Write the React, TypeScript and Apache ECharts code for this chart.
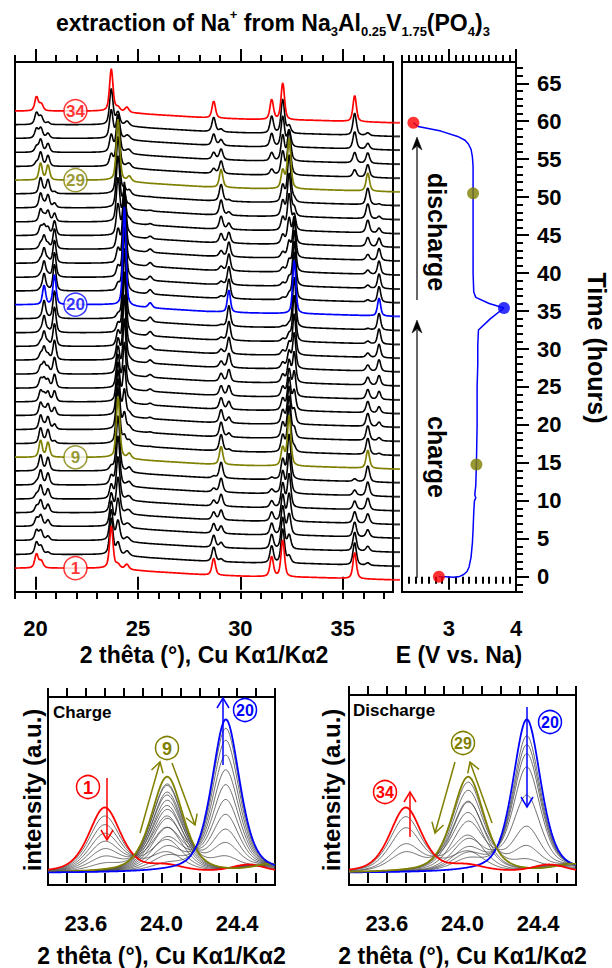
import React, { useEffect, useRef } from "react";
import * as echarts from "echarts";

const FONT = '"Liberation Sans", Arial, Helvetica, sans-serif';
const RED = "#ff0000";
const OLIVE = "#808000";
const BLUE = "#0000ff";
const BLACK = "#000000";
const GRAY = "#4a4a4a";

// ---------------- data ----------------
// Reflections of the three phases: 2θ position (°), height (a.u.), FWHM (°)
const phaseAPos = [20.05, 20.28, 23.7, 24.02, 24.46, 28.7, 31.53, 32.07, 35.58];
const phaseAHeight = [14, 7, 42, 4, 5, 17, 20, 37, 26];
const phaseAFwhm = [0.2, 0.22, 0.2, 0.24, 0.22, 0.2, 0.2, 0.2, 0.2];

const phaseBPos = [20.25, 20.61, 24.03, 24.58, 29.06, 32.07, 32.38, 36.22];
const phaseBHeight = [17, 15, 62, 5, 18, 18, 50, 18];
const phaseBFwhm = [0.19, 0.19, 0.2, 0.22, 0.2, 0.2, 0.2, 0.2];

const phaseCPos = [20.42, 20.93, 24.34, 25.6, 29.44, 32.63, 36.77];
const phaseCHeight = [19, 30, 99, 5, 22, 54, 18];
const phaseCFwhm = [0.18, 0.18, 0.175, 0.22, 0.18, 0.18, 0.18];

// Scans
const scanNumbers = [
  1, 2, 3, 4, 5, 6, 7, 8, 9, 10, 11, 12, 13, 14, 15, 16, 17, 18, 19, 20, 21,
  22, 23, 24, 25, 26, 27, 28, 29, 30, 31, 32, 33, 34,
];
const scanTimes = [
  -0.4, 1.4, 3.25, 5.1, 6.9, 8.7, 10.55, 12.4, 14.2, 16.0, 17.85, 19.7, 21.5,
  23.3, 25.15, 27.0, 28.8, 30.6, 32.45, 34.3, 36.1, 37.9, 39.75, 41.6, 43.4,
  45.2, 47.05, 48.9, 50.7, 52.5, 54.35, 56.2, 58.0, 59.8,
];
const fracA = [
  1, 0.86, 0.72, 0.58, 0.45, 0.33, 0.21, 0.1, 0, 0, 0, 0, 0, 0, 0, 0, 0, 0, 0,
  0, 0, 0, 0, 0, 0, 0, 0, 0, 0, 0.28, 0.41, 0.67, 0.85, 1,
];
const fracB = [
  0, 0.14, 0.28, 0.42, 0.55, 0.67, 0.79, 0.9, 1, 0.92, 0.83, 0.74, 0.64, 0.54,
  0.44, 0.34, 0.24, 0.14, 0.06, 0, 0.11, 0.17, 0.23, 0.32, 0.51, 0.72, 0.85,
  0.94, 1, 0.72, 0.59, 0.33, 0.15, 0,
];
const fracC = [
  0, 0, 0, 0, 0, 0, 0, 0, 0, 0.08, 0.17, 0.26, 0.36, 0.46, 0.56, 0.66, 0.76,
  0.86, 0.94, 1, 0.89, 0.83, 0.77, 0.68, 0.49, 0.28, 0.15, 0.06, 0, 0, 0, 0, 0,
  0,
];
// background (a.u.) of the patterns
const bgTheta = [19, 23.6, 25.6, 28.3, 30.5, 33.5, 37.45];
const bgCounts = [11.7, 11.7, 8.4, 5.0, 3.4, 2.4, 0];

// Electrochemical curve: potential (V) vs time (h)
const chargeE = [2.85, 2.95, 3.07, 3.16, 3.22, 3.27, 3.3, 3.33, 3.35, 3.36, 3.37, 3.38, 3.4, 3.385, 3.4, 3.41, 3.42, 3.42, 3.43, 3.43, 3.44, 3.62, 3.82];
const chargeT = [0, 0, -0.05, 0.05, 0.3, 0.7, 1.3, 2.6, 4.5, 6.2, 8.5, 10.0, 10.4, 10.8, 12, 15, 20, 25, 28, 30.5, 32.5, 34.0, 35.4];
const dischargeE = [3.82, 3.6, 3.4, 3.37, 3.36, 3.36, 3.36, 3.36, 3.35, 3.33, 3.29, 3.24, 3.13, 2.88, 2.54, 2.47];
const dischargeT = [35.4, 36.0, 36.8, 37.5, 40, 45, 50, 54, 55.3, 56.3, 57.0, 57.5, 58.0, 58.7, 59.3, 59.8];
const markerScan = [1, 9, 20, 29, 34];
const markerE = [2.85, 3.41, 3.82, 3.36, 2.47];
const markerT = [0, 14.8, 35.4, 50.5, 59.8];

// ticks
const mainMajorTicks = [20, 25, 30, 35];
const mainMinorTicks = [19, 20, 21, 22, 23, 24, 25, 26, 27, 28, 29, 30, 31, 32, 33, 34, 35, 36, 37];
const eMajorTicks = [3, 4];
const eMinorTicks = [2.3, 2.4, 2.5, 2.6, 2.7, 2.8, 2.9, 3.0, 3.1, 3.2, 3.3, 3.4, 3.5, 3.6, 3.7, 3.8, 3.9, 4.0];
const timeMajorTicks = [0, 5, 10, 15, 20, 25, 30, 35, 40, 45, 50, 55, 60, 65];
const timeMinorTicks = Array.from({ length: 70 }, (_, k) => k - 2);
const zoomTicks = [23.4, 23.5, 23.6, 23.7, 23.8, 23.9, 24.0, 24.1, 24.2, 24.3, 24.4, 24.5, 24.6];
const zoomLabels = [23.6, 24.0, 24.4];

// ranges
const THETA_MIN = 19;
const THETA_MAX = 37.45;
const E_MIN = 2.3;
const E_MAX = 4.0;
const T_MIN = -2;
const T_MAX = 67.8;
const Z_MIN = 23.4;
const Z_MAX = 24.6;
const COUNTS_PER_HOUR = 7.59;

const highlight: Record<number, string> = { 1: RED, 9: OLIVE, 20: BLUE, 29: OLIVE, 34: RED };
const colorOf = (n: number) => highlight[n] || BLACK;

// ---------------- profile model ----------------
function pv(dx: number, w: number) {
  const r = (2 * dx) / w;
  const r2 = r * r;
  return 0.5 / (1 + r2) + 0.5 * Math.exp(-Math.LN2 * r2);
}
function phase(x: number, pos: number[], h: number[], w: number[]) {
  let s = 0;
  for (let i = 0; i < pos.length; i++) s += h[i] * pv(x - pos[i], w[i]);
  return s;
}
function intensity(i: number, x: number) {
  return (
    fracA[i] * phase(x, phaseAPos, phaseAHeight, phaseAFwhm) +
    fracB[i] * phase(x, phaseBPos, phaseBHeight, phaseBFwhm) +
    fracC[i] * phase(x, phaseCPos, phaseCHeight, phaseCFwhm)
  );
}
function background(x: number) {
  if (x <= bgTheta[0]) return bgCounts[0];
  for (let k = 1; k < bgTheta.length; k++) {
    if (x <= bgTheta[k]) {
      const f = (x - bgTheta[k - 1]) / (bgTheta[k] - bgTheta[k - 1]);
      return bgCounts[k - 1] + f * (bgCounts[k] - bgCounts[k - 1]);
    }
  }
  return bgCounts[bgCounts.length - 1];
}

// ---------------- helpers ----------------
const tickLine = { color: "#000", width: 2 };
function xTickAxis(gridIndex: number, position: string, min: number, max: number, ticks: number[], len: number, extra: any = {}) {
  return {
    type: "value",
    gridIndex,
    position,
    min,
    max,
    axisLine: { show: false },
    axisTick: { show: true, inside: false, length: len, lineStyle: tickLine, customValues: ticks },
    axisLabel: { show: false },
    splitLine: { show: false },
    ...extra,
  };
}
const labelStyle = { fontFamily: FONT, fontWeight: "bold", fontSize: 22, color: "#000" };
const nameStyle = { fontFamily: FONT, fontWeight: "bold", fontSize: 23, color: "#000" };

function arrow(x1: number, y1: number, x2: number, y2: number, color: string, filled: boolean, head = 10, half = 5, width = 1.5): any[] {
  const dx = x2 - x1;
  const dy = y2 - y1;
  const L = Math.hypot(dx, dy);
  const ux = dx / L;
  const uy = dy / L;
  const nx = -uy;
  const ny = ux;
  const bx = x2 - ux * head;
  const by = y2 - uy * head;
  const els: any[] = [
    { type: "line", shape: { x1, y1, x2: filled ? bx + ux * 3 : x2, y2: filled ? by + uy * 3 : y2 }, style: { stroke: color, lineWidth: width }, z: 100 },
  ];
  if (filled) {
    els.push({
      type: "polygon",
      shape: { points: [[x2, y2], [bx + nx * half, by + ny * half], [x2 - ux * head * 0.7, y2 - uy * head * 0.7], [bx - nx * half, by - ny * half]] },
      style: { fill: color, stroke: color, lineWidth: 0.5 },
      z: 100,
    });
  } else {
    els.push({
      type: "polyline",
      shape: { points: [[bx + nx * half, by + ny * half], [x2, y2], [bx - nx * half, by - ny * half]] },
      style: { stroke: color, fill: "none", lineWidth: width },
      z: 100,
    });
  }
  return els;
}
function circled(cx: number, cy: number, label: string, color: string): any[] {
  return [
    { type: "circle", shape: { cx, cy, r: 11.5 }, style: { fill: "#fff", stroke: color, lineWidth: 1.5 }, z: 100 },
    {
      type: "text", x: cx, y: cy + 0.5, z: 101,
      style: { text: label, fill: color, fontFamily: FONT, fontWeight: "bold", fontSize: label.length > 1 ? 16 : 18, align: "center", verticalAlign: "middle", textAlign: "center", textVerticalAlign: "middle" },
    },
  ];
}
function gtext(x: number, y: number, text: string, size: number, rotation = 0, align = "center", color = "#000"): any {
  return {
    type: "text", x, y, rotation, z: 100,
    style: { text, fill: color, fontFamily: FONT, fontWeight: "bold", fontSize: size, align, verticalAlign: "middle", textAlign: align, textVerticalAlign: "middle" },
  };
}

function buildOption() {
  const STEP = 0.02;
  const nMain = Math.round((THETA_MAX - THETA_MIN) / STEP);
  const series: any[] = [];

  // main stacked patterns
  const order = scanNumbers.map((n, i) => i).sort((a, b) => (highlight[scanNumbers[a]] ? 1 : 0) - (highlight[scanNumbers[b]] ? 1 : 0));
  order.forEach((i) => {
    const data: number[][] = [];
    for (let k = 0; k <= nMain; k++) {
      const x = THETA_MIN + k * STEP;
      data.push([x, scanTimes[i] + (background(x) + intensity(i, x)) / COUNTS_PER_HOUR]);
    }
    const c = colorOf(scanNumbers[i]);
    series.push({
      type: "line", xAxisIndex: 0, yAxisIndex: 0, data, showSymbol: false, silent: true,
      lineStyle: { color: c, width: c === BLACK ? 1.6 : 1.7 }, z: c === BLACK ? 2 : 3,
    });
  });
  // pattern ticks on the right edge
  series.push({
    type: "scatter", xAxisIndex: 0, yAxisIndex: 0, clip: false, silent: true, z: 4,
    symbol: "rect", symbolSize: [7, 2], symbolOffset: [3.5, 0],
    data: scanTimes.map((t, i) => ({ value: [THETA_MAX, t + background(THETA_MAX) / COUNTS_PER_HOUR], itemStyle: { color: colorOf(scanNumbers[i]) } })),
  });
  // circled scan numbers
  series.push({
    type: "scatter", xAxisIndex: 0, yAxisIndex: 0, silent: true, z: 5,
    symbol: "circle", symbolSize: 23,
    itemStyle: { color: "#fff", borderWidth: 1.5 },
    label: { show: true, position: "inside", formatter: (p: any) => p.name, fontFamily: FONT, fontWeight: "bold", fontSize: 17 },
    data: markerScan.map((n) => {
      const i = scanNumbers.indexOf(n);
      const x = 21.95;
      return { name: String(n), value: [x, scanTimes[i] + background(x) / COUNTS_PER_HOUR], itemStyle: { borderColor: colorOf(n) }, label: { color: colorOf(n) } };
    }),
  });

  // electrochemistry
  series.push({
    type: "line", xAxisIndex: 4, yAxisIndex: 1, showSymbol: false, silent: true, z: 3,
    lineStyle: { color: BLUE, width: 1.5 },
    data: chargeE.map((e, k) => [e, chargeT[k]]).concat(dischargeE.map((e, k) => [e, dischargeT[k]])),
  });
  series.push({
    type: "scatter", xAxisIndex: 4, yAxisIndex: 1, silent: true, z: 4, symbolSize: 12, clip: false,
    data: markerE.map((e, k) => ({ value: [e, markerT[k]], itemStyle: { color: colorOf(markerScan[k]) } })),
  });

  // zoom panels
  const ZSTEP = 0.005;
  const nZ = Math.round((Z_MAX - Z_MIN) / ZSTEP);
  const zoomSeries = (idxs: number[], xAxisIndex: number, yAxisIndex: number) => {
    const sorted = idxs.slice().sort((a, b) => (highlight[scanNumbers[a]] ? 1 : 0) - (highlight[scanNumbers[b]] ? 1 : 0));
    sorted.forEach((i) => {
      const data: number[][] = [];
      for (let k = 0; k <= nZ; k++) {
        const x = Z_MIN + k * ZSTEP;
        data.push([x, intensity(i, x)]);
      }
      const hc = highlight[scanNumbers[i]];
      series.push({
        type: "line", xAxisIndex, yAxisIndex, data, showSymbol: false, silent: true,
        lineStyle: { color: hc || GRAY, width: hc ? 1.8 : 0.8 }, z: hc ? 3 : 2,
      });
    });
  };
  const chargeIdx = scanNumbers.map((n, i) => i).filter((i) => scanNumbers[i] <= 20);
  const dischargeIdx = scanNumbers.map((n, i) => i).filter((i) => scanNumbers[i] >= 20);
  zoomSeries(chargeIdx, 8, 3);
  zoomSeries(dischargeIdx, 10, 4);

  const grids = [
    { left: 15, top: 62, width: 378, height: 530 },
    { left: 402, top: 62, width: 114, height: 530 },
    { left: 48, top: 697, width: 227, height: 188 },
    { left: 349, top: 695, width: 227, height: 190 },
  ].map((g) => ({ ...g, show: true, borderColor: "#000", borderWidth: 2, backgroundColor: "transparent", containLabel: false }));

  const thetaName = "2 thêta (°), Cu Kα1/Kα2";
  const xAxis = [
    xTickAxis(0, "bottom", THETA_MIN, THETA_MAX, mainMajorTicks, 13, {
      axisLabel: { show: true, customValues: mainMajorTicks, margin: 25, ...labelStyle },
      name: thetaName, nameLocation: "middle", nameGap: 51, nameTextStyle: nameStyle,
    }),
    xTickAxis(0, "bottom", THETA_MIN, THETA_MAX, mainMinorTicks, 7),
    xTickAxis(0, "top", THETA_MIN, THETA_MAX, mainMajorTicks, 13),
    xTickAxis(0, "top", THETA_MIN, THETA_MAX, mainMinorTicks, 7),
    xTickAxis(1, "bottom", E_MIN, E_MAX, eMajorTicks, 13, {
      axisLabel: { show: true, customValues: eMajorTicks, margin: 25, ...labelStyle },
      name: "E (V vs. Na)", nameLocation: "middle", nameGap: 51, nameTextStyle: nameStyle,
    }),
    xTickAxis(1, "bottom", E_MIN, E_MAX, eMinorTicks, 7),
    xTickAxis(1, "top", E_MIN, E_MAX, eMajorTicks, 13),
    xTickAxis(1, "top", E_MIN, E_MAX, eMinorTicks, 7),
    xTickAxis(2, "bottom", Z_MIN, Z_MAX, zoomTicks, 10, {
      axisLabel: { show: true, customValues: zoomLabels, margin: 27, formatter: (v: number) => v.toFixed(1), ...labelStyle },
      name: thetaName, nameLocation: "middle", nameGap: 59, nameTextStyle: nameStyle,
    }),
    xTickAxis(2, "top", Z_MIN, Z_MAX, zoomTicks, 9),
    xTickAxis(3, "bottom", Z_MIN, Z_MAX, zoomTicks, 10, {
      axisLabel: { show: true, customValues: zoomLabels, margin: 27, formatter: (v: number) => v.toFixed(1), ...labelStyle },
      name: thetaName, nameLocation: "middle", nameGap: 59, nameTextStyle: nameStyle,
    }),
    xTickAxis(3, "top", Z_MIN, Z_MAX, zoomTicks, 9),
  ];
  const yAxis = [
    { type: "value", gridIndex: 0, min: T_MIN, max: T_MAX, show: false },
    {
      type: "value", gridIndex: 1, position: "right", min: T_MIN, max: T_MAX,
      axisLine: { show: false }, splitLine: { show: false },
      axisTick: { show: true, inside: false, length: 13, lineStyle: tickLine, customValues: timeMajorTicks },
      axisLabel: { show: true, customValues: timeMajorTicks, margin: 21, ...labelStyle },
    },
    {
      type: "value", gridIndex: 1, position: "right", min: T_MIN, max: T_MAX,
      axisLine: { show: false }, splitLine: { show: false },
      axisTick: { show: true, inside: false, length: 7, lineStyle: tickLine, customValues: timeMinorTicks },
      axisLabel: { show: false },
    },
    { type: "value", gridIndex: 2, min: -7.7, max: 113.5, show: false },
    { type: "value", gridIndex: 3, min: -7.7, max: 114.8, show: false },
  ];

  const graphic: any[] = [
    {
      type: "text", x: 56, y: 8, z: 100,
      style: {
        text: "{m|extraction of Na}{sp|+}{m| from Na}{sb|3}{m|Al}{sb|0.25}{m|V}{sb|1.75}{m|(PO}{sb|4}{m|)}{sb|3}",
        fill: "#000",
        align: "left",
        textAlign: "left",
        rich: {
          m: { fontFamily: FONT, fontWeight: "bold", fontSize: 23, lineHeight: 30, fill: "#000", color: "#000" },
          sp: { fontFamily: FONT, fontWeight: "bold", fontSize: 13, verticalAlign: "top", fill: "#000", color: "#000" },
          sb: { fontFamily: FONT, fontWeight: "bold", fontSize: 13, verticalAlign: "bottom", fill: "#000", color: "#000" },
        },
      },
    },
    gtext(597, 348, "Time (hours)", 25, -Math.PI / 2),
    gtext(437, 232, "discharge", 25, -Math.PI / 2),
    gtext(437, 457, "charge", 25, -Math.PI / 2),
    ...arrow(417, 300, 417, 137, BLACK, true, 13, 5, 1.2),
    ...arrow(417, 578, 417, 320, BLACK, true, 13, 5, 1.2),
    gtext(32, 790, "intensity (a.u.)", 24, Math.PI / 2),
    gtext(331, 790, "intensity (a.u.)", 24, Math.PI / 2),
    gtext(53, 712, "Charge", 17, 0, "left"),
    gtext(353, 710, "Discharge", 17, 0, "left"),
    // charge annotations
    ...arrow(107, 778, 107, 840, RED, false, 10, 6),
    ...circled(88, 787, "1", RED),
    ...arrow(140, 833, 160, 762, OLIVE, false, 10, 6),
    ...arrow(172, 763, 195, 825, OLIVE, false, 10, 6),
    ...circled(167, 748, "9", OLIVE),
    ...arrow(223, 765, 223, 698, BLUE, false, 10, 6),
    ...circled(245, 710, "20", BLUE),
    // discharge annotations
    ...arrow(410, 837, 410, 792, RED, false, 10, 6),
    ...circled(385, 792, "34", RED),
    ...arrow(455, 762, 435, 833, OLIVE, false, 10, 6),
    ...arrow(492, 823, 470, 762, OLIVE, false, 10, 6),
    ...circled(463, 743, "29", OLIVE),
    ...arrow(527, 707, 527, 807, BLUE, false, 10, 6),
    ...circled(550, 722, "20", BLUE),
  ];

  return {
    animation: false,
    backgroundColor: "#fff",
    textStyle: { fontFamily: FONT },
    grid: grids,
    xAxis,
    yAxis,
    series,
    graphic,
  };
}

export default function App() {
  const ref = useRef<HTMLDivElement>(null);
  useEffect(() => {
    document.body.style.margin = "0";
    const chart = echarts.init(ref.current as HTMLDivElement, null, { renderer: "svg" });
    chart.setOption(buildOption() as any);
    return () => chart.dispose();
  }, []);
  return <div ref={ref} style={{ width: 612, height: 968 }} />;
}
